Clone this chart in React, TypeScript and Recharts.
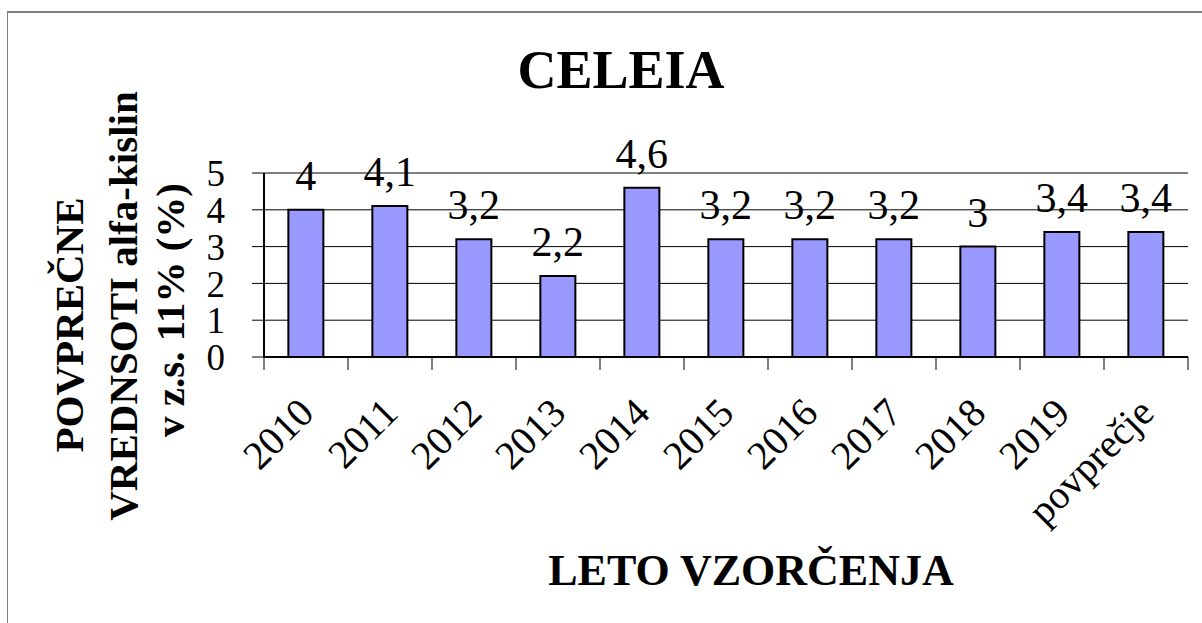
import React from 'react';
import { BarChart, Bar, XAxis, YAxis, CartesianGrid, LabelList } from 'recharts';

const years = ['2010', '2011', '2012', '2013', '2014', '2015', '2016', '2017', '2018', '2019', 'povprečje'];
const values = [4, 4.1, 3.2, 2.2, 4.6, 3.2, 3.2, 3.2, 3, 3.4, 3.4];
const yTicks = [0, 1, 2, 3, 4, 5];

const data = years.map((year, i) => ({ year, value: values[i] }));

const FONT = '"Liberation Serif", "Times New Roman", serif';

// year label rotated 45°, plus Excel-style tick marks between categories
const YearTick = (props: any) => {
    const { x, y, payload, index, visibleTicksCount } = props;
    const half = payload.offset || 42;
    const ex = x + 10;
    const ey = y + 58;
    const last = index === visibleTicksCount - 1;
    return (
        <g>
            <line x1={x - half} x2={x - half} y1={y} y2={y + 13} stroke="#000" strokeWidth={1} />
            {last && <line x1={x + half} x2={x + half} y1={y} y2={y + 13} stroke="#000" strokeWidth={1} />}
            <text
                x={ex}
                y={ey}
                transform={`rotate(-45, ${ex}, ${ey})`}
                textAnchor="end"
                fontSize={40}
                fontFamily={FONT}
                fill="#000"
            >
                {payload.value}
            </text>
        </g>
    );
};

export default function App() {
    return (
        <div style={{ position: 'absolute', left: 0, top: 0, width: 1202, height: 623, background: '#fff', overflow: 'hidden' }}>
            <div
                style={{
                    position: 'absolute',
                    left: 7,
                    top: 11,
                    width: 1300,
                    height: 700,
                    borderLeft: '1px solid #808080',
                    borderTop: '2px solid #808080',
                }}
            />
            <BarChart
                width={1202}
                height={623}
                data={data}
                margin={{ top: 173, right: 14, left: 0, bottom: 0 }}
                barCategoryGap="29%"
            >
                <CartesianGrid vertical={false} stroke="#000" strokeWidth={1} />
                <XAxis
                    dataKey="year"
                    interval={0}
                    height={266}
                    tickLine={false}
                    tickSize={0}
                    tickMargin={0}
                    axisLine={{ stroke: '#000', strokeWidth: 2 }}
                    tick={YearTick}
                />
                <XAxis xAxisId="top" orientation="top" dataKey="year" height={0} tick={false} tickLine={false} axisLine={{ stroke: '#000', strokeWidth: 2 }} />
                <YAxis
                    domain={[0, 5]}
                    ticks={yTicks}
                    interval={0}
                    width={264}
                    tickSize={12}
                    tickMargin={27}
                    axisLine={{ stroke: '#000', strokeWidth: 2 }}
                    tickLine={{ stroke: '#000', strokeWidth: 1 }}
                    tick={{ fontSize: 37, fontFamily: FONT, fill: '#000' }}
                />
                <YAxis yAxisId="right" orientation="right" domain={[0, 5]} width={0} tick={false} tickLine={false} axisLine={{ stroke: '#000', strokeWidth: 2 }} />
                <Bar dataKey="value" fill="#9999FF" stroke="#000" strokeWidth={2} isAnimationActive={false}>
                    <LabelList
                        dataKey="value"
                        position="top"
                        offset={20}
                        formatter={(v: any) => String(v).replace('.', ',')}
                        style={{ fontSize: 42, fontFamily: FONT, fill: '#000' }}
                    />
                </Bar>
            </BarChart>
            <svg
                width={1202}
                height={623}
                style={{ position: 'absolute', left: 0, top: 0, pointerEvents: 'none' }}
            >
                <text x={621} y={88} textAnchor="middle" fontSize={54} fontWeight="bold" fontFamily={FONT} fill="#000">
                    CELEIA
                </text>
                <text x={751} y={585} textAnchor="middle" fontSize={44} fontWeight="bold" fontFamily={FONT} fill="#000">
                    LETO VZORČENJA
                </text>
                <text x={83} y={325} transform="rotate(-90, 83, 325)" textAnchor="middle" fontSize={41} fontWeight="bold" fontFamily={FONT} fill="#000">
                    POVPREČNE
                </text>
                <text x={137} y={306} transform="rotate(-90, 137, 306)" textAnchor="middle" fontSize={41} fontWeight="bold" fontFamily={FONT} fill="#000">
                    VREDNSOTI alfa-kislin
                </text>
                <text x={184} y={310} transform="rotate(-90, 184, 310)" textAnchor="middle" fontSize={41} fontWeight="bold" fontFamily={FONT} fill="#000">
                    v z.s. 11% (%)
                </text>
            </svg>
        </div>
    );
}
